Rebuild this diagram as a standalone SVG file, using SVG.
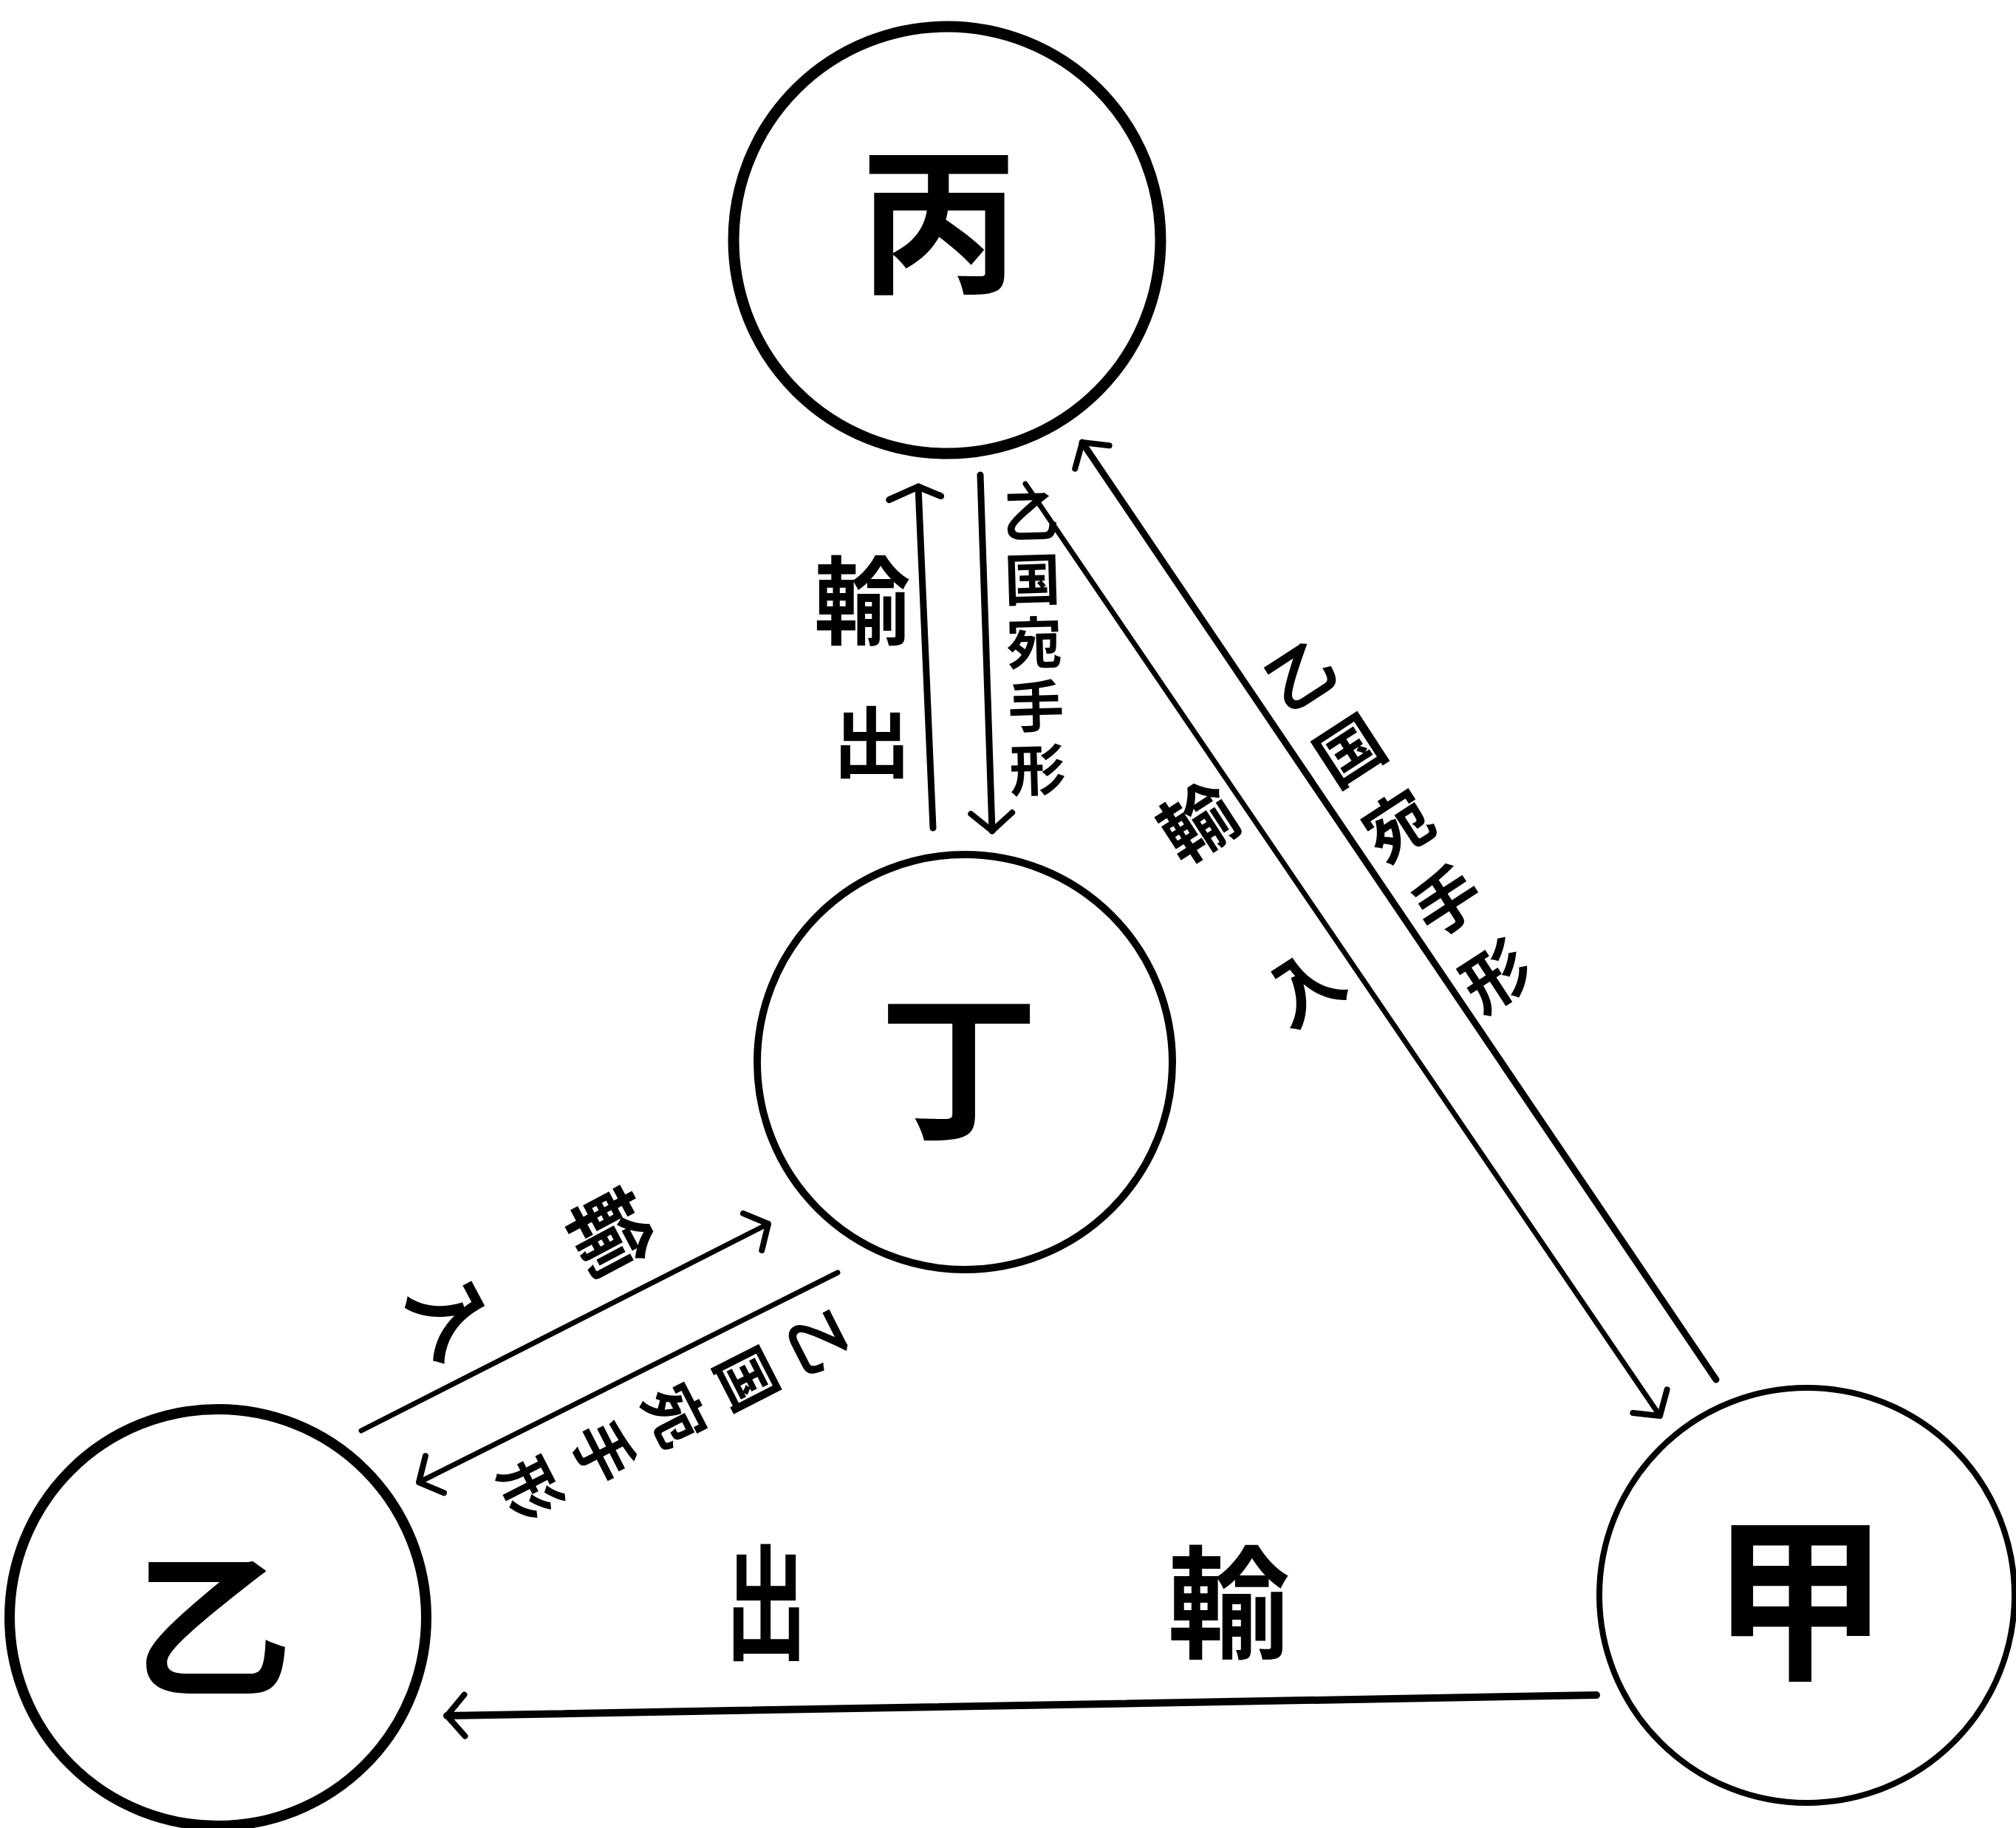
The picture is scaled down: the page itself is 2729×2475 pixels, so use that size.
<svg xmlns="http://www.w3.org/2000/svg" width="2729" height="2475" viewBox="0 0 2729 2475">
<style>
.node{fill:none;stroke:#000}
.lbl{font-family:"Noto Sans CJK JP","Noto Sans CJK SC",sans-serif;fill:#000;text-anchor:middle;dominant-baseline:central}
.big{font-size:215px;font-weight:700}
.edge{fill:none;stroke:#000;stroke-linecap:round}
.t{font-family:"Noto Sans CJK JP","Noto Sans CJK SC",sans-serif;fill:#000;text-anchor:middle;dominant-baseline:central;font-weight:700}
.v{font-family:"Noto Sans CJK JP","Noto Sans CJK SC",sans-serif;fill:#000;font-weight:700;writing-mode:vertical-rl}
</style>
<defs>
<marker id="ah" markerUnits="userSpaceOnUse" viewBox="-40 -40 50 80" markerWidth="50" markerHeight="80" refX="0" refY="0" orient="auto" overflow="visible">
<path d="M-24,-28 L0,0 L-24,28" fill="none" stroke="#000" stroke-width="8" stroke-linecap="round" stroke-linejoin="round"/>
</marker>
<marker id="ahw" markerUnits="userSpaceOnUse" viewBox="-40 -50 50 100" markerWidth="50" markerHeight="100" refX="0" refY="0" orient="auto" overflow="visible">
<path d="M-16,-40 L0,0 L-14,30" fill="none" stroke="#000" stroke-width="9" stroke-linecap="round" stroke-linejoin="round"/>
</marker>
</defs>
<rect width="2729" height="2475" fill="#fff"/>

<g id="node-hei">
<circle class="node" cx="1282" cy="325" r="289" stroke-width="15"/>
<text class="lbl big" x="1271" y="286">丙</text>
</g>
<g id="node-tei">
<circle class="node" cx="1306" cy="1438" r="281" stroke-width="10"/>
<text class="lbl big" x="1298" y="1432" font-weight="500">丁</text>
</g>
<g id="node-otsu">
<circle class="node" cx="295" cy="2190" r="282" stroke-width="14"/>
<text class="lbl big" x="288" y="2188" font-weight="500">乙</text>
</g>
<g id="node-kou">
<circle class="node" cx="2446" cy="2160" r="281" stroke-width="8"/>
<text class="lbl big" x="2436" y="2150" style="font-size:240px">甲</text>
</g>

<g id="connectors">
<path class="edge" d="M1263,1121 L1243,659" stroke-width="9" marker-end="url(#ahw)"/>
<path class="edge" d="M1327,643 L1343,1125" stroke-width="9" marker-end="url(#ah)"/>
<path class="edge" d="M2323,1868 L1465,599" stroke-width="9" marker-end="url(#ah)"/>
<path class="edge" d="M1388,655 L2247,1917" stroke-width="7" marker-end="url(#ah)"/>
<path class="edge" d="M489,1937 L1040,1657" stroke-width="7" marker-end="url(#ah)"/>
<path class="edge" d="M1134,1723 L567,2007" stroke-width="7" marker-end="url(#ah)"/>
<path class="edge" d="M2161,2295 L605,2323" stroke-width="10" marker-end="url(#ah)"/>
</g>

<g id="labels">
<text class="t" x="1167" y="805" font-size="130">輸</text>
<text class="t" x="1180" y="998" font-size="105">出</text>
<text class="v" x="1394" y="660" font-size="76" letter-spacing="10" transform="rotate(-1.6 1394 660)">乙国宛手形</text>

<g transform="translate(1758,910) rotate(-33)">
<text class="t" font-size="90" font-weight="500"><tspan x="0" y="0">乙</tspan><tspan x="0" y="121">国</tspan><tspan x="0" y="242">宛</tspan><tspan x="0" y="363">手</tspan><tspan x="0" y="485">形</tspan></text>
</g>
<g transform="translate(1618,1108) rotate(-33)">
<text class="t" font-size="100" font-weight="500"><tspan x="0" y="0">輸</tspan><tspan x="0" y="265">入</tspan></text>
</g>
<g transform="translate(832,1665) rotate(62)">
<text class="t" font-size="110" font-weight="500"><tspan x="0" y="0">輸</tspan><tspan x="0" y="243">入</tspan></text>
</g>
<g transform="translate(1113,1815) rotate(63)">
<text class="t" font-size="82" font-weight="500"><tspan x="0" y="0">乙</tspan><tspan x="0" y="109">国</tspan><tspan x="0" y="218">宛</tspan><tspan x="0" y="327">手</tspan><tspan x="0" y="437">形</tspan></text>
</g>
<text class="t" transform="translate(1037,2160) scale(0.65,1)" x="0" y="0" font-size="170" font-weight="500">出</text>
<text class="t" x="1663" y="2160" font-size="165" font-weight="500">輸</text>
</g>
</svg>
